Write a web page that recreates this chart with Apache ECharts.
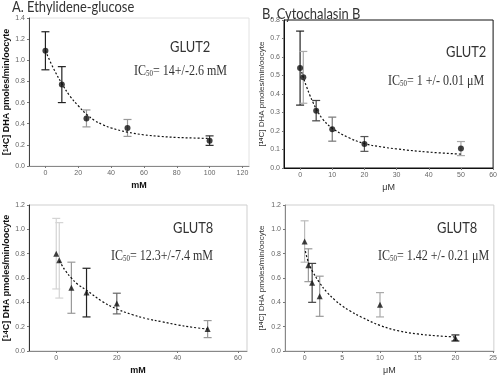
<!DOCTYPE html>
<html>
<head>
<meta charset="utf-8">
<script src="https://cdn.jsdelivr.net/npm/echarts@6/dist/echarts.min.js"></script>
<style>html,body{margin:0;padding:0;background:#fff}#c{width:500px;height:377px}</style>
</head>
<body>
<div id="c"></div>
<script>
// ---------- Data ----------
// Panel A: Ethylidene-glucose, GLUT2 (mM)
const xA = [0, 10, 25, 50, 100];
const yA = [1.09, 0.77, 0.45, 0.36, 0.24];
const errA = [0.18, 0.17, 0.08, 0.08, 0.045];
const fitXA = [0, 5, 10, 15, 20, 25, 30, 35, 40, 50, 60, 70, 80, 90, 100];
const fitYA = [1.09, 0.92, 0.78, 0.66, 0.57, 0.49, 0.43, 0.39, 0.36, 0.32, 0.295, 0.28, 0.27, 0.265, 0.26];
const ticksXA = [0, 20, 40, 60, 80, 100, 120];

// Panel B: Cytochalasin B, GLUT2 (uM)
const xB = [0, 1, 5, 10, 20, 50];
const yB = [0.54, 0.49, 0.31, 0.21, 0.13, 0.105];
const errB = [0.2, 0.14, 0.055, 0.065, 0.04, 0.038];
const fitXB = [0.5, 1, 2, 3, 4, 5, 7, 10, 15, 20, 25, 30, 40, 50];
const fitYB = [0.52, 0.49, 0.44, 0.395, 0.355, 0.32, 0.265, 0.215, 0.165, 0.132, 0.115, 0.103, 0.086, 0.075];
const ticksXB = [0, 10, 20, 30, 40, 50, 60];

// Panel C: Ethylidene-glucose, GLUT8 (mM)
const xC = [0, 1, 5, 10, 20, 50];
const yC = [0.80, 0.745, 0.52, 0.48, 0.39, 0.18];
const errC = [0.29, 0.31, 0.21, 0.2, 0.085, 0.07];
const fitXC = [1, 2, 3, 5, 7, 10, 15, 20, 25, 30, 35, 40, 45, 50];
const fitYC = [0.74, 0.70, 0.66, 0.60, 0.55, 0.50, 0.41, 0.345, 0.30, 0.265, 0.24, 0.215, 0.195, 0.18];
const ticksXC = [0, 20, 40, 60];

// Panel D: Cytochalasin B, GLUT8 (uM)
const xD = [0, 0.5, 1, 2, 10, 20];
const yD = [0.90, 0.705, 0.56, 0.45, 0.38, 0.107];
const errD = [0.17, 0.135, 0.16, 0.165, 0.1, 0.025];
const fitXD = [0.1, 0.5, 1, 2, 3, 4, 5, 6, 7.5, 10, 12.5, 15, 17.5, 20];
const fitYD = [0.82, 0.73, 0.66, 0.56, 0.48, 0.42, 0.37, 0.33, 0.28, 0.21, 0.165, 0.14, 0.125, 0.115];
const ticksXD = [0, 5, 10, 15, 20, 25];

// ---------- Styles (not data) ----------
const errColA = ['#222', '#222', '#999', '#999', '#333'];
const errColB = ['#222', '#aaa', '#444', '#777', '#555', '#aaa'];
const errColC = ['#d4d4d4', '#d4d4d4', '#999', '#222', '#666', '#999'];
const errColD = ['#bbb', '#999', '#444', '#999', '#aaa', '#222'];

const chart = echarts.init(document.getElementById('c'), null, {renderer: 'canvas'});

function errRender(colors) {
  return function (params, api) {
    const x = api.value(0), lo = api.value(1), hi = api.value(2);
    const p1 = api.coord([x, lo]), p2 = api.coord([x, hi]);
    const w = 4;
    const st = {stroke: colors[params.dataIndex], lineWidth: 1.2};
    return {
      type: 'group',
      children: [
        {type: 'line', shape: {x1: p1[0], y1: p1[1], x2: p2[0], y2: p2[1]}, style: st},
        {type: 'line', shape: {x1: p1[0] - w, y1: p1[1], x2: p1[0] + w, y2: p1[1]}, style: st},
        {type: 'line', shape: {x1: p2[0] - w, y1: p2[1], x2: p2[0] + w, y2: p2[1]}, style: st}
      ]
    };
  };
}

function xAx(gi, min, max, ticks, name, lineColor, bold) {
  return {
    type: 'value', gridIndex: gi, min: min, max: max,
    axisLine: {onZero: false, lineStyle: {color: lineColor, width: 1}},
    axisTick: {customValues: ticks, length: 2, lineStyle: {color: '#777'}},
    axisLabel: {customValues: ticks, fontSize: 7, color: '#666', margin: 4, fontFamily: 'Liberation Sans'},
    splitLine: {show: false},
    name: name, nameLocation: 'middle', nameGap: 15,
    nameTextStyle: {fontSize: 9, fontWeight: bold ? 'bold' : 'normal', color: bold ? '#111' : '#333', fontFamily: 'Liberation Sans'}
  };
}
function yAx(gi, max, interval, lineColor, bold, gap) {
  return {
    type: 'value', gridIndex: gi, min: 0, max: max, interval: interval,
    axisLine: {show: true, onZero: false, lineStyle: {color: lineColor, width: 1}},
    axisTick: {show: true, length: 2, lineStyle: {color: '#777'}},
    axisLabel: {fontSize: 7, color: '#666', margin: 4, fontFamily: 'Liberation Sans', formatter: v => v.toFixed(1)},
    splitLine: {show: false},
    name: '[{sup|14}C] DHA pmoles/min/oocyte',
    nameLocation: 'middle', nameGap: gap,
    nameTextStyle: {
      fontSize: bold ? 9 : 8, fontWeight: bold ? 'bold' : 'normal', color: bold ? '#111' : '#333',
      fontFamily: 'Liberation Sans',
      rich: {sup: {fontSize: bold ? 7 : 6, fontWeight: 'bold', verticalAlign: 'top', color: bold ? '#111' : '#333', fontFamily: 'Liberation Sans'}}
    }
  };
}
function pts(xs, ys) { return xs.map((x, i) => [x, ys[i]]); }
function errs(xs, ys, es) { return xs.map((x, i) => [x, ys[i] - es[i], ys[i] + es[i]]); }

function panelSeries(gi, xs, ys, es, fx, fy, cols, symbol) {
  return [
    {type: 'custom', xAxisIndex: gi, yAxisIndex: gi, renderItem: errRender(cols),
     encode: {x: 0, y: [1, 2]}, data: errs(xs, ys, es), z: 2, silent: true},
    {type: 'line', xAxisIndex: gi, yAxisIndex: gi, data: pts(fx, fy), smooth: 0.4,
     showSymbol: false, symbol: 'none', lineStyle: {color: '#111', width: 1.2, type: [2, 2]}, z: 3},
    {type: 'scatter', xAxisIndex: gi, yAxisIndex: gi, data: pts(xs, ys), symbol: symbol,
     symbolSize: 6, itemStyle: {color: '#111'}, z: 4}
  ];
}

const icRich = {
  n: {fontFamily: 'Liberation Serif', fontSize: 14, color: '#222'},
  s: {fontFamily: 'Liberation Serif', fontSize: 8, color: '#222', verticalAlign: 'bottom'}
};
const SX = 0.86;
function txt(x, y, text, opts) {
  return {type: 'text', x: x, y: y, scaleX: SX, silent: true,
    style: Object.assign({text: text, fill: '#333', align: 'left', verticalAlign: 'middle'}, opts)};
}

const option = {
  animation: false,
  backgroundColor: '#fff',
  grid: [
    {left: 29, top: 18, width: 220, height: 148, show: true, borderColor: '#e2e2e2', borderWidth: 1, backgroundColor: '#fff'},
    {left: 284, top: 20, width: 211, height: 148, show: true, borderColor: '#111', borderWidth: 1, backgroundColor: '#fff'},
    {left: 29, top: 205, width: 218, height: 146, show: true, borderColor: '#cfcfcf', borderWidth: 1, backgroundColor: '#fff'},
    {left: 285, top: 205, width: 212, height: 146, show: true, borderColor: '#cfcfcf', borderWidth: 1, backgroundColor: '#fff'}
  ],
  xAxis: [
    xAx(0, -10, 124, ticksXA, 'mM', '#888', true),
    xAx(1, -5, 60, ticksXB, 'μM', '#111', false),
    xAx(2, -9, 63, ticksXC, 'mM', '#888', true),
    xAx(3, -2.6, 25.1, ticksXD, 'μM', '#888', false)
  ],
  yAxis: [
    yAx(0, 1.4, 0.2, '#444', true, 15),
    yAx(1, 0.8, 0.1, '#111', false, 18),
    yAx(2, 1.2, 0.2, '#333', true, 15),
    yAx(3, 1.2, 0.2, '#888', false, 19)
  ],
  series: [].concat(
    panelSeries(0, xA, yA, errA, fitXA, fitYA, errColA, 'circle'),
    panelSeries(1, xB, yB, errB, fitXB, fitYB, errColB, 'circle'),
    panelSeries(2, xC, yC, errC, fitXC, fitYC, errColC, 'triangle'),
    panelSeries(3, xD, yD, errD, fitXD, fitYD, errColD, 'triangle')
  ),
  graphic: [
    txt(12, 7, 'A. Ethylidene-glucose', {font: '15px Lato', fill: '#333'}),
    txt(262, 14, 'B. Cytochalasin B', {font: '15px Lato', fill: '#333'}),
    txt(170, 47, 'GLUT2', {font: '15px Lato'}),
    txt(446, 52, 'GLUT2', {font: '15px Lato'}),
    txt(173, 228, 'GLUT8', {font: '15px Lato'}),
    txt(437, 228, 'GLUT8', {font: '15px Lato'}),
    txt(134, 71, '{n|IC}{s|50}{n|= 14+/-2.6 mM}', {rich: icRich}),
    txt(388, 81, '{n|IC}{s|50}{n|= 1 +/- 0.01 μM}', {rich: icRich}),
    txt(111, 256, '{n|IC}{s|50}{n|= 12.3+/-7.4 mM}', {rich: icRich}),
    txt(378, 256, '{n|IC}{s|50}{n|= 1.42 +/- 0.21 μM}', {rich: icRich})
  ]
};
chart.setOption(option);
</script>
</body>
</html>
